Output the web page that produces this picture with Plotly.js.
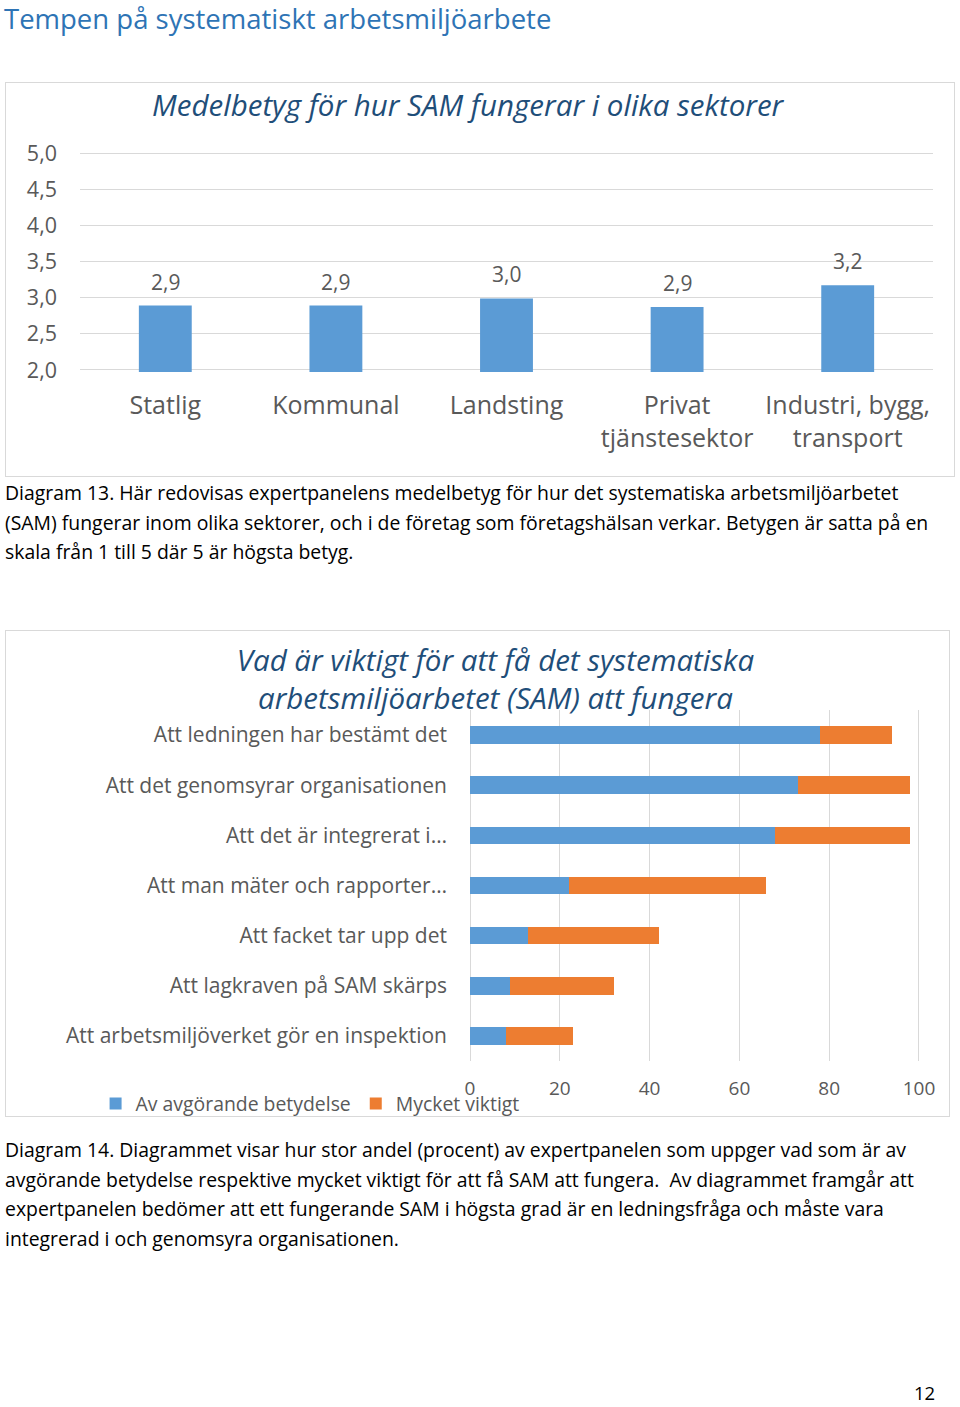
<!DOCTYPE html>
<html>
<head>
<meta charset="utf-8">
<script src="https://cdn.plot.ly/plotly-3.0.1.min.js"></script>
<style>
  html, body { margin:0; padding:0; background:#ffffff; }
  #page { position:relative; width:960px; height:1407px; overflow:hidden; font-family:'Open Sans', sans-serif; }
  .box { position:absolute; border:1px solid #d9d9d9; background:#fff; }
  .txt { position:absolute; white-space:nowrap; color:#000; }
  .cap { font-size:19.4px; line-height:29.5px; }
</style>
</head>
<body>
<div id="page">
  <div class="txt" style="left:4px; top:0px; font-size:27.5px; line-height:normal; color:#2e74b5;">Tempen på systematiskt arbetsmiljöarbete</div>

  <div class="box" id="chart1" style="left:5px; top:82px; width:948px; height:393px;"></div>

  <div class="txt cap" style="left:5px; top:478px;">
    Diagram 13. Här redovisas expertpanelens medelbetyg för hur det systematiska arbetsmiljöarbetet<br>
    (SAM) fungerar inom olika sektorer, och i de företag som företagshälsan verkar. Betygen är satta på en<br>
    skala från 1 till 5 där 5 är högsta betyg.
  </div>

  <div class="box" id="chart2" style="left:5px; top:630px; width:943px; height:485px;"></div>

  <div class="txt cap" style="left:5px; top:1135px;">
    Diagram 14. Diagrammet visar hur stor andel (procent) av expertpanelen som uppger vad som är av<br>
    avgörande betydelse respektive mycket viktigt för att få SAM att fungera.&nbsp; Av diagrammet framgår att<br>
    expertpanelen bedömer att ett fungerande SAM i högsta grad är en ledningsfråga och måste vara<br>
    integrerad i och genomsyra organisationen.
  </div>

  <div class="txt" style="left:914px; top:1380px; font-size:18.5px; line-height:normal;">12</div>
</div>

<script>
// ---- Chart 1 data ----
var sectors = ['Statlig', 'Kommunal', 'Landsting', 'Privat<br>tjänstesektor', 'Industri, bygg,<br>transport'];
var avgScores = [2.89, 2.89, 2.99, 2.87, 3.17];
var scoreTicks = [2.0, 2.5, 3.0, 3.5, 4.0, 4.5, 5.0];

// ---- Chart 2 data ----
var factors = [
  'Att ledningen har bestämt det',
  'Att det genomsyrar organisationen',
  'Att det är integrerat i…',
  'Att man mäter och rapporter…',
  'Att facket tar upp det',
  'Att lagkraven på SAM skärps',
  'Att arbetsmiljöverket gör en inspektion'
];
var decisive = [78, 73, 68, 22, 13, 9, 8];
var veryImportant = [16, 25, 30, 44, 29, 23, 15];
var seriesNames = ['Av avgörande betydelse', 'Mycket viktigt'];
var pctTicks = [0, 20, 40, 60, 80, 100];

var BLUE = '#5b9bd5', ORANGE = '#ed7d31', GRID = '#d9d9d9', LABEL = '#595959', TITLE = '#1f4e79';

function fmt(v) { return v.toFixed(1).replace('.', ','); }

// ---- Chart 1 ----
var c1Ann = avgScores.map(function (v, i) {
  return { x: sectors[i], y: v, xref: 'x', yref: 'y', text: fmt(v), showarrow: false,
           yanchor: 'bottom', yshift: 8, font: { size: 21, color: LABEL } };
});
Plotly.newPlot('chart1', [{
  type: 'bar', x: sectors, y: avgScores, marker: { color: BLUE }, hoverinfo: 'none'
}], {
  width: 948, height: 393,
  margin: { l: 74, r: 21, t: 68, b: 104 },
  paper_bgcolor: '#fff', plot_bgcolor: '#fff',
  font: { family: 'Open Sans, sans-serif', color: LABEL },
  title: { text: '<i>Medelbetyg för hur SAM fungerar i olika sektorer</i>',
           font: { size: 29.5, color: TITLE, family: 'Open Sans, sans-serif' },
           x: 0.487, xref: 'container', xanchor: 'center', y: 1 - 23 / 393, yref: 'container', yanchor: 'middle' },
  xaxis: { type: 'category', showgrid: false, zeroline: false, showline: false, ticks: '',
           tickfont: { size: 25, color: LABEL }, ticklabelstandoff: 16 },
  yaxis: { range: [1.972, 5.028], tickvals: scoreTicks, ticktext: scoreTicks.map(fmt), gridcolor: GRID, gridwidth: 1,
           zeroline: false, showline: false, ticks: '', tickfont: { size: 21.5, color: LABEL }, ticklabelstandoff: 22 },
  bargap: 0.69,
  showlegend: false,
  annotations: c1Ann
}, { staticPlot: true });

// ---- Chart 2 ----
Plotly.newPlot('chart2', [
  { type: 'bar', orientation: 'h', y: factors, x: decisive, name: seriesNames[0], marker: { color: BLUE }, hoverinfo: 'none' },
  { type: 'bar', orientation: 'h', y: factors, x: veryImportant, name: seriesNames[1], marker: { color: ORANGE }, hoverinfo: 'none' }
], {
  width: 943, height: 485,
  margin: { l: 462, r: 28, t: 79, b: 55 },
  paper_bgcolor: '#fff', plot_bgcolor: '#fff',
  barmode: 'stack',
  bargap: 0.65,
  font: { family: 'Open Sans, sans-serif', color: LABEL },
  title: { text: '<i>Vad är viktigt för att få det systematiska<br>arbetsmiljöarbetet (SAM) att fungera</i>',
           font: { size: 29.5, color: TITLE, family: 'Open Sans, sans-serif' },
           x: 0.519, xref: 'container', xanchor: 'center', y: 1 - 40 / 485, yref: 'container', yanchor: 'middle' },
  xaxis: { range: [-0.45, 100.45], tickvals: pctTicks, gridcolor: GRID, gridwidth: 1, zeroline: false,
           showline: false, ticks: '', tickfont: { size: 19, color: LABEL }, ticklabelstandoff: 14 },
  yaxis: { type: 'category', autorange: 'reversed', showgrid: false, zeroline: false, showline: false, ticks: '',
           tickfont: { size: 21, color: LABEL }, ticklabelstandoff: 20 },
  showlegend: true,
  legend: { orientation: 'h', xref: 'container', yref: 'container', x: 0.095, y: 1 - 473 / 485,
            xanchor: 'left', yanchor: 'middle', font: { size: 19.4, color: LABEL }, traceorder: 'normal',
            bgcolor: 'rgba(0,0,0,0)', itemwidth: 30 }
}, { staticPlot: true });
</script>
</body>
</html>
